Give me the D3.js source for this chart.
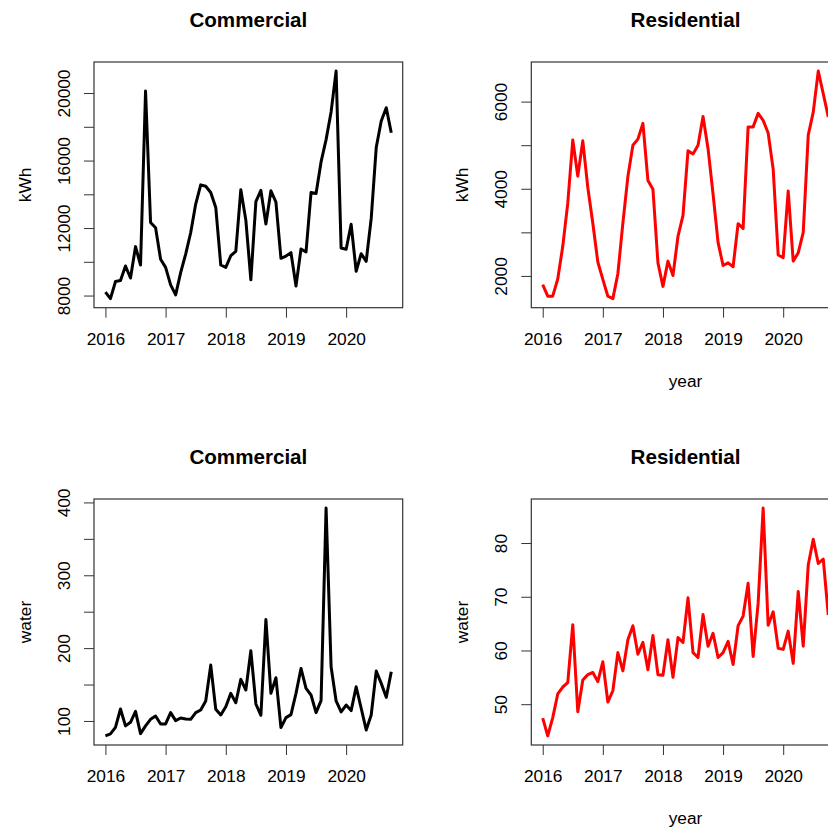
<!DOCTYPE html>
<html>
<head>
<meta charset="utf-8">
<script src="https://cdn.jsdelivr.net/npm/d3@7"></script>
<style>
  html, body { margin: 0; padding: 0; background: #fff; overflow: hidden; }
  svg { display: block; font-family: "Liberation Sans", Arial, Helvetica, sans-serif; }
</style>
</head>
<body>
<svg id="chart" width="828" height="828"></svg>
<script>
// monthly series, like an R ts with start = 2016, frequency = 12
const startYear = 2016;
const frequency = 12;

const commercialKwh = [
  8200, 7820, 8830, 8890, 9750, 9040, 10900, 9810, 20120, 12330, 12020, 10150,
  9670, 8630, 8040, 9360, 10460, 11720, 13420, 14560, 14480, 14110, 13220, 9810,
  9670, 10360, 10620, 14270, 12470, 8930, 13560, 14230, 12240, 14210, 13540, 10210,
  10340, 10540, 8570, 10760, 10580, 14110, 14050, 15920, 17240, 18880, 21300, 10820,
  10740, 12220, 9440, 10480, 10030, 12570, 16770, 18340, 19130, 17650
];
const residentialKwh = [
  1800, 1535, 1535, 1930, 2680, 3670, 5120, 4290, 5100, 4030, 3210, 2320,
  1920, 1535, 1480, 2050, 3210, 4280, 5000, 5140, 5500, 4190, 3990, 2300,
  1760, 2340, 2010, 2910, 3390, 4870, 4800, 5000, 5660, 4920, 3880, 2770,
  2240, 2300, 2210, 3200, 3090, 5420, 5420, 5730, 5570, 5280, 4450, 2480,
  2420, 3950, 2340, 2530, 3000, 5230, 5760, 6700, 6180, 5650
];
const commercialWater = [
  79.5, 82.2, 91.3, 116.4, 93.2, 98.2, 113.2, 82.6, 93.2, 102.3, 106.8, 95.9,
  95.9, 111.4, 100.5, 104.1, 102.7, 102.3, 111.4, 115.1, 127.4, 176.7, 116.0, 108.2,
  119.6, 137.9, 125.1, 157.1, 142.5, 196.3, 123.3, 107.8, 239.3, 137.9, 159.4, 90.9,
  104.6, 108.7, 137.9, 172.1, 144.7, 135.6, 111.4, 127.9, 392.2, 174.4, 127.4, 112.3,
  121.9, 114.2, 147.0, 117.4, 87.7, 108.2, 168.5, 151.6, 132.4, 167.6
];
const residentialWater = [
  47.4, 44.1, 47.5, 51.9, 53.2, 54.0, 64.8, 48.6, 54.5, 55.5, 55.9, 54.2,
  57.9, 50.4, 52.5, 59.6, 56.2, 62.0, 64.6, 59.3, 61.5, 56.4, 62.8, 55.5,
  55.4, 62.0, 55.0, 62.4, 61.5, 69.8, 59.6, 58.7, 66.7, 60.8, 63.2, 58.7,
  59.6, 61.7, 57.4, 64.6, 66.4, 72.5, 58.9, 68.8, 86.5, 64.7, 67.2, 60.4,
  60.2, 63.6, 57.6, 71.0, 60.8, 75.9, 80.7, 76.2, 77.0, 66.6
];

const yearTicks = [2016, 2017, 2018, 2019, 2020];
const kwhTicksCom = [8000, 10000, 12000, 14000, 16000, 18000, 20000];
const kwhLabelsCom = [8000, 12000, 16000, 20000];
const kwhTicksRes = [2000, 3000, 4000, 5000, 6000];
const kwhLabelsRes = [2000, 4000, 6000];
const waterTicksCom = [100, 150, 200, 250, 300, 350, 400];
const waterLabelsCom = [100, 200, 300, 400];
const waterTicksRes = [50, 60, 70, 80];
const waterLabelsRes = [50, 60, 70, 80];

const fontSize = "17.3px";

const svg = d3.select("#chart");
svg.append("rect").attr("width", 828).attr("height", 828).attr("fill", "#fff");

// R style axis range: data range padded by 4% on each side
function rRange(ext) {
  const pad = (ext[1] - ext[0]) * 0.04;
  return [ext[0] - pad, ext[1] + pad];
}

const panels = [
  { title: "Commercial", ylab: "kWh", xlab: null, values: commercialKwh, color: "#000",
    ticks: kwhTicksCom, labels: kwhLabelsCom, left: 94, right: 402.7, top: 62, bottom: 307.7 },
  { title: "Residential", ylab: "kWh", xlab: "year", values: residentialKwh, color: "#ff0000",
    ticks: kwhTicksRes, labels: kwhLabelsRes, left: 531.3, right: 839.7, top: 62, bottom: 307.7 },
  { title: "Commercial", ylab: "water", xlab: null, values: commercialWater, color: "#000",
    ticks: waterTicksCom, labels: waterLabelsCom, left: 94, right: 402.7, top: 499, bottom: 745 },
  { title: "Residential", ylab: "water", xlab: "year", values: residentialWater, color: "#ff0000",
    ticks: waterTicksRes, labels: waterLabelsRes, left: 531.3, right: 839.7, top: 499, bottom: 745 }
];

panels.forEach(p => {
  const data = p.values.map((v, i) => ({ t: startYear + i / frequency, v: v }));

  const x = d3.scaleLinear()
    .domain(rRange(d3.extent(data, d => d.t)))
    .range([p.left, p.right]);
  const y = d3.scaleLinear()
    .domain(rRange(d3.extent(data, d => d.v)))
    .range([p.bottom, p.top]);

  const g = svg.append("g");

  // line
  g.append("path")
    .datum(data)
    .attr("fill", "none")
    .attr("stroke", p.color)
    .attr("stroke-width", 3)
    .attr("stroke-linejoin", "round")
    .attr("d", d3.line().x(d => x(d.t)).y(d => y(d.v)));

  // x axis
  const xAxis = g.append("g")
    .attr("transform", `translate(0,${p.bottom})`)
    .call(d3.axisBottom(x).tickValues(yearTicks).tickFormat(d3.format("d"))
      .tickSize(10).tickPadding(15));
  xAxis.select(".domain").remove();

  // y axis: all ticks, labels only where R keeps them
  const yAxis = g.append("g")
    .attr("transform", `translate(${p.left},0)`)
    .call(d3.axisLeft(y).tickValues(p.ticks)
      .tickFormat(d => p.labels.includes(d) ? d3.format("d")(d) : "")
      .tickSize(10));
  yAxis.select(".domain").remove();
  yAxis.selectAll(".tick text")
    .attr("x", null).attr("dy", null)
    .attr("text-anchor", "middle")
    .attr("transform", "translate(-24,0) rotate(-90)");

  [xAxis, yAxis].forEach(a => {
    a.selectAll(".tick line").attr("stroke", "#333").attr("stroke-width", 1);
    a.selectAll(".tick text").attr("fill", "#000").style("font-size", fontSize)
      .style("font-family", "'Liberation Sans', Arial, sans-serif");
  });

  // box
  g.append("rect")
    .attr("x", p.left).attr("y", p.top)
    .attr("width", p.right - p.left).attr("height", p.bottom - p.top)
    .attr("fill", "none").attr("stroke", "#333").attr("stroke-width", 1.2);

  // title
  g.append("text")
    .attr("x", (p.left + p.right) / 2).attr("y", p.top - 35)
    .attr("text-anchor", "middle")
    .style("font-size", "20.6px").style("font-weight", "bold")
    .text(p.title);

  // y label
  g.append("text")
    .attr("text-anchor", "middle")
    .attr("transform", `translate(${p.left - 63},${(p.top + p.bottom) / 2}) rotate(-90)`)
    .style("font-size", fontSize)
    .text(p.ylab);

  // x label
  if (p.xlab) {
    g.append("text")
      .attr("x", (p.left + p.right) / 2).attr("y", p.bottom + 79)
      .attr("text-anchor", "middle")
      .style("font-size", fontSize)
      .text(p.xlab);
  }
});
</script>
</body>
</html>
